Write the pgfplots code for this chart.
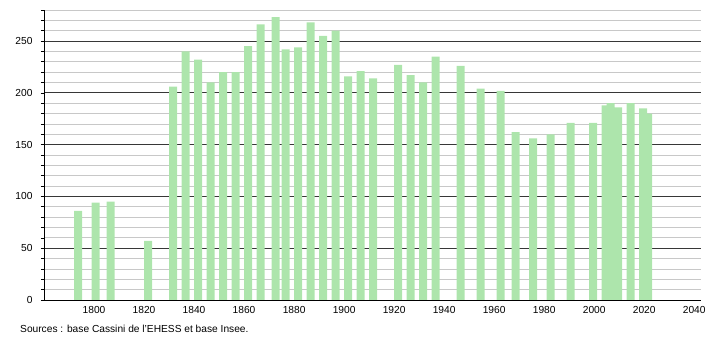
\documentclass[border=0pt]{standalone}
\usepackage{pgfplots}
\pgfplotsset{compat=1.18}
\usepackage{fontspec}
\setmainfont{Liberation Sans}
\definecolor{bargreen}{RGB}{173,229,172}
\definecolor{majgrid}{RGB}{55,55,55}
\definecolor{mingrid}{RGB}{200,200,200}
\begin{document}
\begin{tikzpicture}[x=1pt,y=1pt]
\useasboundingbox (0,0) rectangle (710,340);
\begin{axis}[
  at={(44pt,40pt)}, anchor=south west,
  scale only axis, width=657pt, height=290pt,
  xmin=1780, xmax=2042.7, ymin=0, ymax=280,
  axis lines*=left,
  axis line style={black, line width=0.8pt},
  xtick={1800,1820,...,2040},
  ytick={0,50,...,250},
  minor ytick={10,20,...,280},
  x tick style={draw=none},
  y tick style={black, line width=0.6pt},
  tick align=outside, major tick length=3pt, minor tick length=3pt,
  ymajorgrids, yminorgrids,
  major grid style={majgrid, line width=0.8pt},
  minor grid style={mingrid, line width=0.8pt},
  tick label style={font=\fontsize{10.2}{12}\selectfont},
  yticklabel style={xshift=-5pt},
  /pgf/number format/assume math mode=true,
  /pgf/number format/set thousands separator={},
  ybar, bar width=3.2, bar shift=0.6,
]
\addplot[fill=bargreen, draw=none] coordinates {
(1793,86) (1800,94) (1806,95) (1821,57)
(1831,206) (1836,240) (1841,232) (1846,210) (1851,220) (1856,220)
(1861,245) (1866,266) (1872,273) (1876,242) (1881,244) (1886,268)
(1891,255) (1896,260) (1901,216) (1906,221) (1911,214)
(1921,227) (1926,217) (1931,210) (1936,235)
(1946,226) (1954,204) (1962,202) (1968,162) (1975,156) (1982,160)
(1990,171) (1999,171) (2004,188) (2006,190) (2009,186)
(2014,190) (2019,185) (2021,180)
};
\end{axis}
\node[anchor=west, font=\fontsize{10.2}{12}\selectfont, inner sep=0pt] at (20,10.7) {Sources : base Cassini de l'EHESS et base Insee.};
\end{tikzpicture}
\end{document}
